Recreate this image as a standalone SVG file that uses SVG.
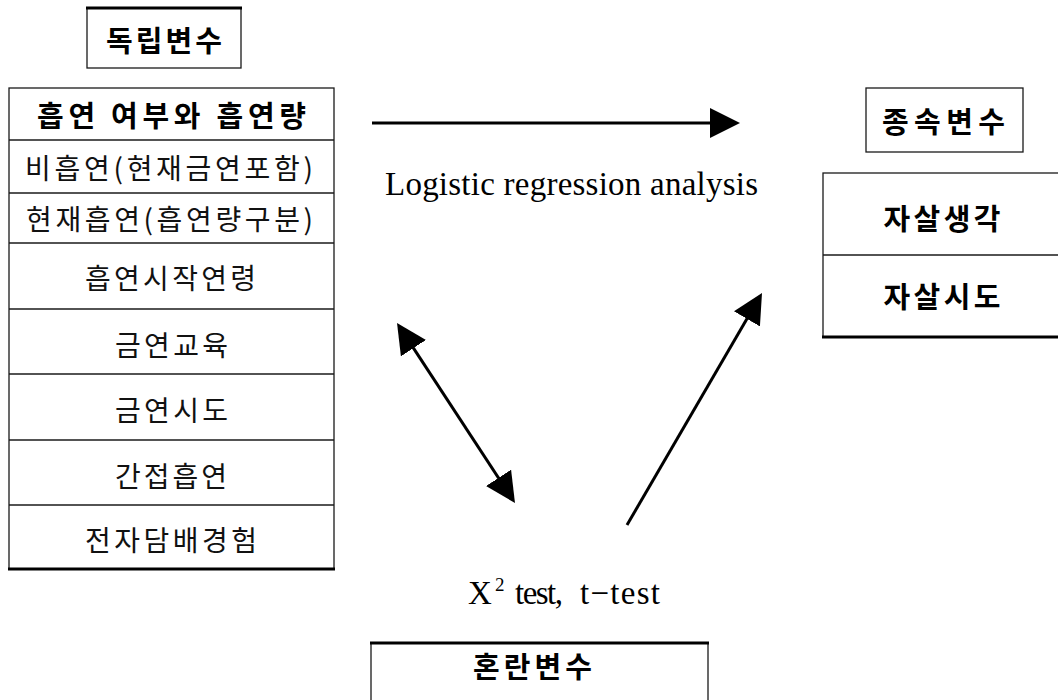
<svg xmlns="http://www.w3.org/2000/svg" width="1058" height="700" viewBox="0 0 1058 700">
<style>
.box{fill:#fff;stroke:#1a1a1a;stroke-width:1.3}
.sep{stroke:#1a1a1a;stroke-width:1.3}
.thick{stroke:#000;stroke-width:3}
.kb{font-family:"Noto Sans CJK KR","Noto Sans",sans-serif;font-weight:bold;font-size:29px;fill:#000;text-anchor:middle;dominant-baseline:central}
.kr{font-family:"Noto Sans CJK KR","Noto Sans",sans-serif;font-weight:normal;font-size:28px;fill:#111;text-anchor:middle;dominant-baseline:central}
.lat{font-family:"Liberation Serif","Times New Roman",serif;font-size:33px;fill:#000}
.arr{stroke:#000;stroke-width:3;fill:none}
</style>
<defs>
<marker id="ah" viewBox="0 0 30 30" markerWidth="30" markerHeight="30" refX="20" refY="15" markerUnits="userSpaceOnUse" orient="auto-start-reverse">
<path d="M0,0 L30,15 L0,30 Z" fill="#000"/>
</marker>
</defs>

<g id="independent-title">
<rect class="box" x="87" y="8" width="154" height="60"/>
<line class="thick" x1="86" y1="8" x2="242" y2="8"/>
<text class="kb" x="164" y="39" textLength="116" lengthAdjust="spacing">독립변수</text>
</g>

<g id="independent-table">
<rect class="box" x="9" y="88" width="325" height="481"/>
<line class="sep" x1="9" y1="140" x2="334" y2="140"/>
<line class="sep" x1="9" y1="193" x2="334" y2="193"/>
<line class="sep" x1="9" y1="243" x2="334" y2="243"/>
<line class="sep" x1="9" y1="309" x2="334" y2="309"/>
<line class="sep" x1="9" y1="374" x2="334" y2="374"/>
<line class="sep" x1="9" y1="440" x2="334" y2="440"/>
<line class="sep" x1="9" y1="505" x2="334" y2="505"/>
<line class="thick" x1="8" y1="569" x2="335" y2="569"/>
<text class="kb" x="171.5" y="114" textLength="269" lengthAdjust="spacing">흡연 여부와 흡연량</text>
<text class="kr" x="169" y="167" textLength="288" lengthAdjust="spacing">비흡연(현재금연포함)</text>
<text class="kr" x="169.5" y="218" textLength="287" lengthAdjust="spacing">현재흡연(흡연량구분)</text>
<text class="kr" x="170.5" y="277" textLength="171" lengthAdjust="spacing">흡연시작연령</text>
<text class="kr" x="171.5" y="344" textLength="113" lengthAdjust="spacing">금연교육</text>
<text class="kr" x="171.5" y="409" textLength="113" lengthAdjust="spacing">금연시도</text>
<text class="kr" x="171" y="475" textLength="112" lengthAdjust="spacing">간접흡연</text>
<text class="kr" x="171" y="539" textLength="172" lengthAdjust="spacing">전자담배경험</text>
</g>

<g id="dependent-title">
<rect class="box" x="866" y="88" width="157" height="64"/>
<text class="kb" x="943.5" y="120" textLength="123" lengthAdjust="spacing">종속변수</text>
</g>

<g id="dependent-table">
<rect class="box" x="823" y="173" width="245" height="164"/>
<line class="sep" x1="823" y1="255" x2="1058" y2="255"/>
<line class="thick" x1="822" y1="337" x2="1058" y2="337"/>
<text class="kb" x="942" y="217" textLength="117" lengthAdjust="spacing">자살생각</text>
<text class="kb" x="942" y="295" textLength="117" lengthAdjust="spacing">자살시도</text>
</g>

<g id="confounder">
<rect class="box" x="371" y="643" width="337" height="70"/>
<line class="thick" x1="370" y1="643" x2="709" y2="643"/>
<text class="kb" x="532.5" y="665" textLength="119" lengthAdjust="spacing">혼란변수</text>
</g>

<g id="connectors">
<line class="arr" x1="372" y1="123" x2="730" y2="123" marker-end="url(#ah)"/>
<line class="arr" x1="402.5" y1="331.4" x2="509.5" y2="494.6" marker-start="url(#ah)" marker-end="url(#ah)"/>
<line class="arr" x1="627" y1="525" x2="757" y2="301.6" marker-end="url(#ah)"/>
</g>

<g id="labels">
<text class="lat" x="385" y="195" font-size="32" textLength="373" lengthAdjust="spacing">Logistic regression analysis</text>
<text class="lat" x="468" y="604">X<tspan x="495" y="591" font-size="19">2</tspan></text>
<text class="lat" x="515" y="604" textLength="48" lengthAdjust="spacing">test,</text>
<text class="lat" x="580" y="604" textLength="80" lengthAdjust="spacing">t−test</text>
</g>
</svg>
